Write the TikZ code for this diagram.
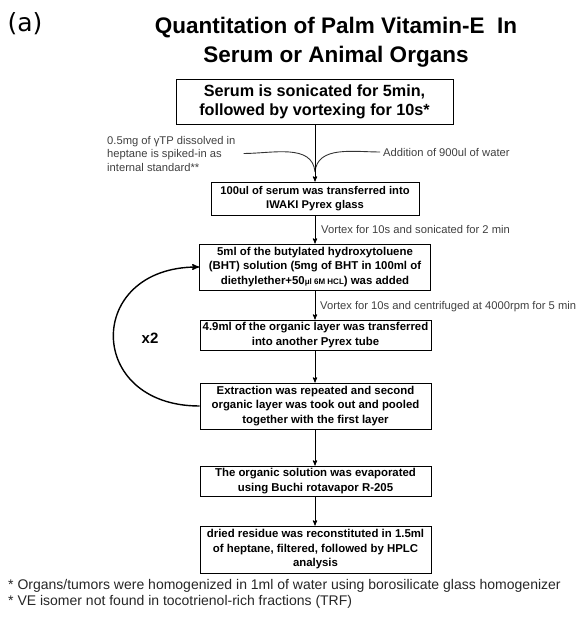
\documentclass[tikz,border=0pt]{standalone}
\usepackage{fontspec}
\setmainfont{Liberation Sans}
\newfontfamily\panelfont{DejaVu Sans}
\usetikzlibrary{arrows}
\usetikzlibrary{positioning}

\tikzset{
  stepbox/.style={draw,rectangle,align=center,inner sep=0pt,line width=0.9pt,
    minimum width=231pt,font=\bfseries\fontsize{11.4}{14.5}\selectfont},
  sidenote/.style={align=left,inner sep=0pt,text=black!75,
    font=\fontsize{11.2}{13.5}\selectfont},
  footnote/.style={anchor=west,inner sep=0pt,text=black!85,font=\fontsize{14}{16}\selectfont}
}

\begin{document}
\begin{tikzpicture}[x=1pt,y=1pt]
  \useasboundingbox (0,0) rectangle (579,-628);

  \node [font=\panelfont\fontsize{25}{28}\selectfont] (panel) at (25,-24) {(a)};
  \node [align=center,font=\bfseries\fontsize{22.5}{29}\selectfont] (title) at (336,-42)
    {Quantitation of Palm Vitamin-E\ \ In\\Serum or Animal Organs};

  \node [stepbox,minimum width=277pt,minimum height=45pt,font=\bfseries\fontsize{16.2}{19}\selectfont]
    (S_1) at (314.5,-101.5) {Serum is sonicated for 5min,\\followed by vortexing for 10s*};
  \node [stepbox,minimum width=208pt,minimum height=33pt,font=\bfseries\fontsize{11.2}{13.5}\selectfont]
    (S_2) at (315,-198.5) {100ul of serum was transferred into\\IWAKI Pyrex glass};
  \node [stepbox,minimum height=46pt]
    (S_3) at (315,-267) {5ml of the butylated hydroxytoluene\\(BHT) solution (5mg of BHT in 100ml of\\diethylether+50{\fontsize{8}{8}\selectfont μl 6M HCL}) was added};
  \node [stepbox,minimum height=30pt]
    (S_4) at (315.5,-335) {4.9ml of the organic layer was transferred\\into another Pyrex tube};
  \node [stepbox,minimum height=46pt]
    (S_5) at (315.5,-406) {Extraction was repeated and second\\organic layer was took out and pooled\\together with the first layer};
  \node [stepbox,minimum height=30pt]
    (S_6) at (315.5,-481) {The organic solution was evaporated\\using Buchi rotavapor R-205};
  \node [stepbox,minimum height=47pt]
    (S_7) at (315.5,-549.5) {dried residue was reconstituted in 1.5ml\\of heptane, filtered, followed by HPLC\\analysis};

  \node [sidenote,anchor=west] (spike) at (107,-153.5) {0.5mg of γTP dissolved in\\heptane is spiked-in as\\internal standard**};
  \node [sidenote,anchor=west] (water) at (383,-152) {Addition of 900ul of water};
  \node [sidenote,anchor=west] (vortex_1) at (321,-229) {Vortex for 10s and sonicated for 2 min};
  \node [sidenote,anchor=west] (vortex_2) at (320,-307) {Vortex for 10s and centrifuged at 4000rpm for 5 min};
  \node [font=\bfseries\fontsize{15}{15}\selectfont] (repeat) at (150,-338) {x2};

  \node [footnote] (foot_1) at (8,-586) {* Organs/tumors were homogenized in 1ml of water using borosilicate glass homogenizer};
  \node [footnote] (foot_2) at (8,-602) {* VE isomer not found in tocotrienol-rich fractions (TRF)};

  \coordinate (meet) at (S_2.north |- 0,-172);

  \path [draw,line width=0.9pt,black!80]
    ([xshift=8pt]spike.east) to [out=0,in=95] (meet)
    ([xshift=-3pt]water.west) to [out=180,in=85] (meet);

  \path [>=stealth',every edge/.style={draw,line width=0.9pt,->}]
    (S_2.north |- S_1.south) edge (S_2.north)
    (S_2.south) edge (S_2.south |- S_3.north)
    (S_2.south |- S_3.south) edge (S_2.south |- S_4.north)
    (S_2.south |- S_4.south) edge (S_2.south |- S_5.north)
    (S_2.south |- S_5.south) edge (S_2.south |- S_6.north)
    (S_2.south |- S_6.south) edge (S_2.south |- S_7.north);

  \path [>=stealth',every edge/.style={draw,line width=1.4pt,->}]
    (S_5.west) edge [out=180,in=180,looseness=2.1] (S_3.west);

\end{tikzpicture}
\end{document}
